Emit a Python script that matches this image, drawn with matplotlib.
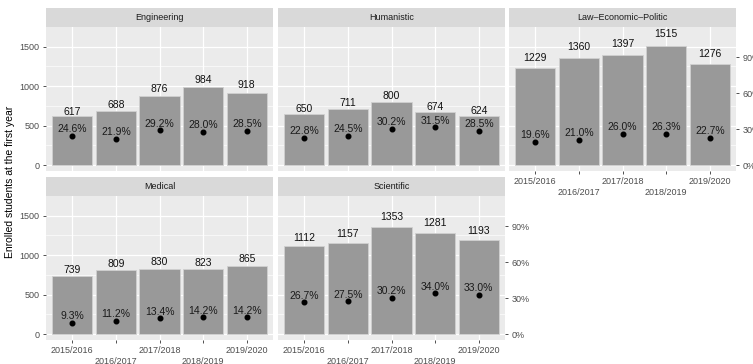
import matplotlib
matplotlib.use('Agg')
import matplotlib.pyplot as plt
from matplotlib.ticker import FuncFormatter

plt.rcParams['font.family'] = ['Liberation Sans', 'DejaVu Sans']

years = ['2015/2016', '2016/2017', '2017/2018', '2018/2019', '2019/2020']
faculties = ['Engineering', 'Humanistic', 'Law\u2013Economic\u2013Politic', 'Medical', 'Scientific']

# enrolled students at the first year
engineering = [617, 688, 876, 984, 918]
humanistic = [650, 711, 800, 674, 624]
law = [1229, 1360, 1397, 1515, 1276]
medical = [739, 809, 830, 823, 865]
scientific = [1112, 1157, 1353, 1281, 1193]

# dropout share (%)
engineering_pct = [24.6, 21.9, 29.2, 28.0, 28.5]
humanistic_pct = [22.8, 24.5, 30.2, 31.5, 28.5]
law_pct = [19.6, 21.0, 26.0, 26.3, 22.7]
medical_pct = [9.3, 11.2, 13.4, 14.2, 14.2]
scientific_pct = [26.7, 27.5, 30.2, 34.0, 33.0]

counts = [engineering, humanistic, law, medical, scientific]
pcts = [engineering_pct, humanistic_pct, law_pct, medical_pct, scientific_pct]

# secondary axis scale: percentages drawn relative to the largest intake
scale = max(max(c) for c in counts)

W, H = 753.0, 364.0
col_x = [46, 278, 509]
panel_w = 227
rows = [(27, 171), (196, 340)]
strip_h = 19
ylim = (-75, 1750)

bg = '#EBEBEB'
strip_bg = '#D9D9D9'
txt = '#4D4D4D'

fig = plt.figure(figsize=(W / 100, H / 100), dpi=100)

positions = [(0, 0), (0, 1), (0, 2), (1, 0), (1, 1)]
x = list(range(1, len(years) + 1))

for k, (r, c) in enumerate(positions):
    top, bot = rows[r]
    ax = fig.add_axes([col_x[c] / W, (H - bot) / H, panel_w / W, (bot - top) / H])
    ax.set_facecolor(bg)
    for s in ax.spines.values():
        s.set_visible(False)
    ax.set_xlim(0.4, 5.6)
    ax.set_ylim(*ylim)
    ax.set_yticks([0, 500, 1000, 1500])
    ax.set_yticks([250, 750, 1250], minor=True)
    ax.set_xticks(x)
    ax.grid(True, which='major', color='white', lw=0.9)
    ax.grid(True, which='minor', axis='y', color='white', lw=0.45)
    ax.set_axisbelow(True)
    ax.tick_params(which='minor', length=0)
    ax.tick_params(axis='both', colors='#333333', labelcolor=txt, labelsize=6.5,
                   length=2.5, width=0.6, pad=2)

    ax.bar(x, counts[k], width=0.92, color='#999999', edgecolor='#D0D0D0', lw=0.6, zorder=2)
    for xi, n in zip(x, counts[k]):
        ax.text(xi, n * 1.1, str(n), ha='center', va='center', fontsize=7.5,
                color='#111111', zorder=4)
    py = [p / 100 * scale for p in pcts[k]]
    ax.scatter(x, py, s=11, color='black', zorder=3)
    for xi, p, yy in zip(x, pcts[k], py):
        ax.annotate('%.1f%%' % p, (xi, yy), xytext=(0, 4.7), textcoords='offset points',
                    ha='center', va='center', fontsize=7.5, color='#1A1A1A', zorder=4)

    # x labels only where no panel sits underneath
    if r == 1 or c == 2:
        ax.set_xticklabels([y if i % 2 == 0 else '\n' + y for i, y in enumerate(years)])
    else:
        ax.tick_params(axis='x', length=0, labelbottom=False)

    if c == 0:
        ax.set_yticklabels(['0', '500', '1000', '1500'])
    else:
        ax.tick_params(axis='y', length=0, labelleft=False)

    # percentage axis on the right-most panel of each row
    if c == 2 or (r == 1 and c == 1):
        ax2 = ax.twinx()
        for s in ax2.spines.values():
            s.set_visible(False)
        ax2.set_ylim(ylim[0] / scale, ylim[1] / scale)
        ax2.set_yticks([0, 0.3, 0.6, 0.9])
        ax2.yaxis.set_major_formatter(FuncFormatter(lambda v, _: '%d%%' % round(v * 100)))
        ax2.tick_params(axis='y', colors='#333333', labelcolor=txt, labelsize=6.5,
                        length=2.5, width=0.6, pad=2)

    sax = fig.add_axes([col_x[c] / W, (H - top) / H, panel_w / W, strip_h / H])
    sax.set_facecolor(strip_bg)
    sax.set_xticks([])
    sax.set_yticks([])
    for s in sax.spines.values():
        s.set_visible(False)
    sax.text(0.5, 0.5, faculties[k], ha='center', va='center', fontsize=6.5,
             color='#1A1A1A', transform=sax.transAxes)

fig.text(10 / W, 1 - 182 / H, 'Enrolled students at the first year', rotation=90,
         ha='center', va='center', fontsize=7.5, color='black')

fig.savefig('out.png', dpi=100)
